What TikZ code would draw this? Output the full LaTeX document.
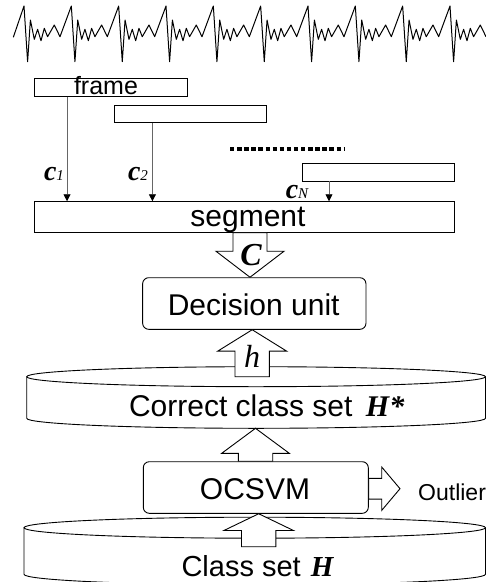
\documentclass[tikz,border=0pt]{standalone}
\usepackage{fontspec}
\setmainfont{Liberation Sans}
\newfontfamily\serifm{Liberation Serif}
\usetikzlibrary{arrows.meta,calc}
\newcommand\fsz[1]{\fontsize{#1}{#1}\selectfont}
% vertical fat arrow: from, to, x centre, shaft half, head half, head length
\newcommand\fatv[6]{%
  \draw[fatstyle] let \p1=(#1), \p2=(#2), \n1={sign(\y1-\y2)} in
    (#3pt-#4pt,\y1) -- (#3pt-#4pt,\y2+\n1*#6pt) -- (#3pt-#5pt,\y2+\n1*#6pt)
    -- (#3pt,\y2) -- (#3pt+#5pt,\y2+\n1*#6pt) -- (#3pt+#4pt,\y2+\n1*#6pt)
    -- (#3pt+#4pt,\y1) -- cycle;}
% horizontal fat arrow: from, to, shaft half, head half, head length
\newcommand\fath[5]{%
  \draw[fatstyle] let \p1=(#1), \p2=(#2), \n1={sign(\x1-\x2)} in
    (\x1,\y2+#3pt) -- (\x2+\n1*#5pt,\y2+#3pt) -- (\x2+\n1*#5pt,\y2+#4pt)
    -- (\x2,\y2) -- (\x2+\n1*#5pt,\y2-#4pt) -- (\x2+\n1*#5pt,\y2-#3pt)
    -- (\x1,\y2-#3pt) -- cycle;}
\tikzset{
  wave/.style={draw=black, line width=1pt, line join=round},
  framebox/.style={draw=black, line width=0.9pt, inner sep=0pt},
  roundbox/.style={draw=black, line width=0.9pt, rounded corners=6pt, inner sep=0pt},
  cyl/.style={draw=black, line width=0.9pt},
  thinarr/.style={draw=black!60, line width=0.8pt, -{Triangle[width=7pt,length=7pt,fill=black,color=black]}},
  fatstyle/.style={draw=black, line width=0.9pt, fill=white, line join=miter},
  sanslbl/.style={anchor=base, inner sep=0pt, font=\fsz{30}},
  clbl/.style={anchor=base, inner sep=0pt},
}
\begin{document}
\begin{tikzpicture}[x=1pt,y=-1pt]
\useasboundingbox (0,0) rectangle (486,582);
\begin{scope}
\clip (0,0) rectangle (486,582);
\fill[white] (0,0) rectangle (486,582);
% waveform
\draw[wave] (13.3,37.3) \foreach \k in {0,...,9}{
  -- ({24+47.333*\k},6) -- ({27.6+47.333*\k},61.7) -- ({30.4+47.333*\k},20)
  -- ({34.3+47.333*\k},39.3) -- ({37.6+47.333*\k},29.3) -- ({41+47.333*\k},40.7)
  -- ({44.3+47.333*\k},28.3) -- ({47.6+47.333*\k},36.7) -- ({54.3+47.333*\k},25)
  -- ({60+47.333*\k},36.7) };
% frames
\node[framebox, minimum width=152.6pt, minimum height=17.7pt] (f1) at (111,87.2) {};
\node[framebox, minimum width=152.7pt, minimum height=17.4pt] (f2) at (190.3,114) {};
\node[framebox, minimum width=152pt, minimum height=17.3pt] (fN) at (378.3,172.3) {};
\node[sanslbl, font=\fsz{25}] (frametxt) at (106,94.5) {frame};
\draw[line width=4pt, dash pattern=on 4.4pt off 2.7pt] (230,148.7) -- (344,148.7);
% segment
\node[framebox, minimum width=419.6pt, minimum height=30.6pt] (seg) at (244.5,217) {};
\node[sanslbl] (segtxt) at (248,226.5) {segment};
% frame to segment arrows
\draw[thinarr] ($(f1.south west)!0.2136!(f1.south east)$) coordinate (a1) -- (a1 |- seg.north);
\draw[thinarr] ($(f2.south west)!0.2534!(f2.south east)$) coordinate (a2) -- (a2 |- seg.north);
\draw[thinarr] ($(fN.south west)!0.1776!(fN.south east)$) coordinate (aN) -- (aN |- seg.north);
\node[clbl] (c1) at (54,180) {\serifm{\bfseries\itshape\fsz{28}c}{\itshape\fsz{15}1}};
\node[clbl] (c2) at (138,180.7) {\serifm{\bfseries\itshape\fsz{28}c}{\itshape\fsz{15}2}};
\node[clbl] (cN) at (297,198.3) {\serifm{\bfseries\itshape\fsz{28}c}{\itshape\fsz{15}N}};
% decision unit
\node[roundbox, minimum width=223.3pt, minimum height=51.6pt] (du) at (254.3,303.5) {};
\node[sanslbl] (dutxt) at (253.7,315) {Decision unit};
\fatv{seg.south}{du.north}{250}{17}{34}{26}
\node[clbl] (Clbl) at (251,265) {\serifm\bfseries\itshape\fsz{32}C};
% correct class set cylinder
\draw[cyl] (26.7,376.7) -- (26.7,418.3) arc[start angle=180, end angle=360, x radius=229.4pt, y radius=10pt] -- (485.5,376.7);
\draw[cyl] (256.1,376.7) ellipse [x radius=229.4pt, y radius=10pt];
\coordinate (hsrc) at (252.2,376.7);
\coordinate (hstarbot) at (255.5,428.3);
\fatv{hsrc}{du.south}{252.2}{17.2}{34.5}{21.4}
\node[clbl] (hlbl) at (252,367.3) {\serifm\itshape\fsz{32}h};
\node[sanslbl] (hstartxt) at (266.7,416) {Correct class set\hspace{0.45em}{\serifm\bfseries\itshape H*}};
% OCSVM
\node[roundbox, minimum width=225pt, minimum height=51.6pt] (oc) at (255.8,487.5) {};
\node[sanslbl] (octxt) at (255,499.3) {OCSVM};
\fatv{oc.north}{hstarbot}{255.5}{17.2}{33.8}{25}
\coordinate (outtip) at (400,488.7);
\fath{oc.east}{outtip}{10.4}{21.7}{18.3}
\node[anchor=base west, inner sep=0pt, font=\fsz{23}] (outtxt) at (418,500) {Outlier};
% class set cylinder
\draw[cyl] (24,527.7) -- (24,574.3) arc[start angle=180, end angle=360, x radius=230.75pt, y radius=10.5pt] -- (485.5,527.7);
\draw[cyl] (254.75,527.7) ellipse [x radius=230.75pt, y radius=10.5pt];
\coordinate (hsetsrc) at (258.7,546.7);
\fatv{hsetsrc}{oc.south}{258.7}{17.2}{34.7}{16.7}
\node[sanslbl, font=\fsz{29}] (hsettxt) at (257.5,576.7) {Class set\hspace{0.35em}{\serifm\bfseries\itshape H}};
\end{scope}
\end{tikzpicture}
\end{document}
